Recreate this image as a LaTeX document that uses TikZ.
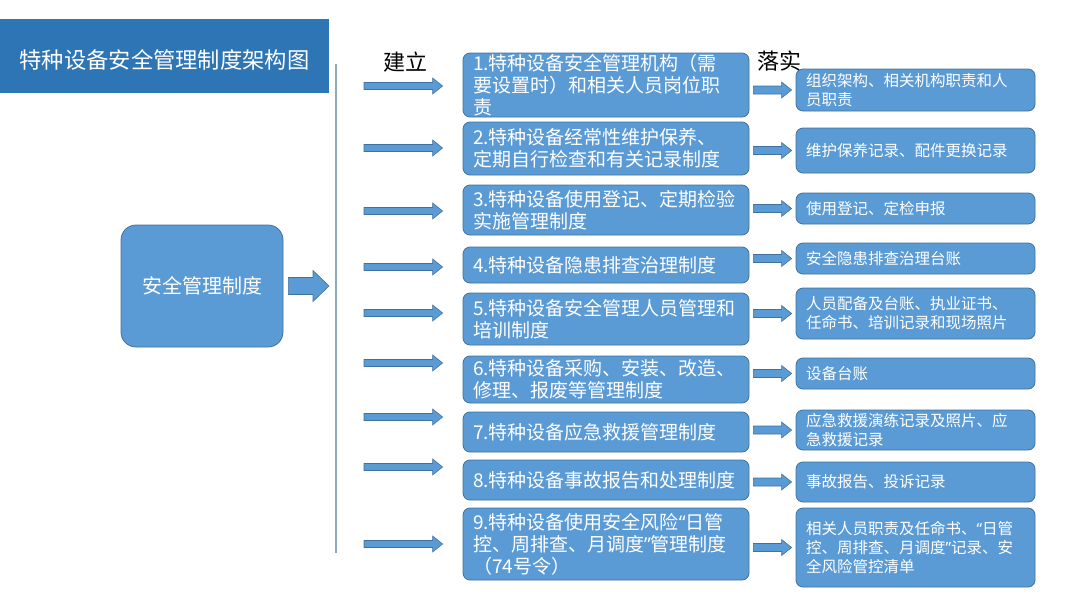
\documentclass[tikz,border=0pt]{standalone}
\usepackage{fontspec}
\setmainfont{Noto Sans CJK SC}
\newfontfamily\latinfont{Noto Sans}
\usepackage{xcolor}
\usepackage{tikz}
\usetikzlibrary{calc, positioning}

\definecolor{boxblue}{HTML}{5B9BD5}
\definecolor{boxline}{HTML}{41719C}
\definecolor{titleblue}{HTML}{2E75B6}
\definecolor{busgray}{HTML}{8FA8C2}

\newcommand{\oq}{{\latinfont “}}
\newcommand{\cq}{{\latinfont ”}}

\begin{document}
\begin{tikzpicture}[
    x=1pt, y=-1pt,
    title_bar/.style={fill=titleblue, text=white, inner sep=0pt, minimum width=329pt, minimum height=74pt, text height=25pt, text depth=0pt, font=\fontsize{22.3}{26}\selectfont},
    sys_box/.style={draw=boxline, fill=boxblue, thick, rounded corners=15pt, text=white, minimum width=162pt, minimum height=122pt, font=\fontsize{20}{24}\selectfont},
    step_lbl/.style={font=\fontsize{22}{26}\selectfont},
    mid_box/.style={draw=boxline, fill=boxblue, thick, rounded corners=7pt, text=white, align=left, text width=266pt, inner xsep=10pt, inner ysep=0pt, font=\fontsize{19}{22}\selectfont},
    res_box/.style={draw=boxline, fill=boxblue, thick, rounded corners=7pt, text=white, align=left, text width=219pt, inner xsep=10pt, inner ysep=0pt, font=\fontsize{15.5}{19}\selectfont},
    block_arrow/.style n args={5}{draw=boxline, fill=boxblue, semithick,
      to path={let \p1=(\tikztostart), \p2=(\tikztotarget) in
        (\x1+#4,\y1+#1) -- (\x2-#5-#3,\y1+#1) -- (\x2-#5-#3,\y1+#2) -- (\x2-#5,\y1)
        -- (\x2-#5-#3,\y1-#2) -- (\x2-#5-#3,\y1-#1) -- (\x1+#4,\y1-#1) -- cycle}}
  ]

  \useasboundingbox (0,0) rectangle (1080,608);

  % 1. 标题栏
  \node[title_bar] (title) at (164.5,56) {特种设备安全管理制度架构图};

  % 2. 左侧总框和竖线
  \node[sys_box] (safety) at (202,286) {安全管理制度};
  \coordinate (bus_top) at (336,64);
  \coordinate (bus_bot) at (336,553);
  \draw[busgray, line width=1.5pt] (bus_top) -- (bus_bot);
  \draw[block_arrow={8.5pt}{15.5pt}{16pt}{5pt}{7pt}] (safety.east) to (safety.east -| bus_top);

  % 3. 建立：九项制度
  \node[mid_box, minimum height=64pt] (m1) at (606,85) {1.特种设备安全管理机构（需\\要设置时）和相关人员岗位职\\责};
  \node[mid_box, minimum height=53pt] (m2) at (606,148.5) {2.特种设备经常性维护保养、\\定期自行检查和有关记录制度};
  \node[mid_box, minimum height=50pt] (m3) at (606,210) {3.特种设备使用登记、定期检验\\实施管理制度};
  \node[mid_box, minimum height=36pt] (m4) at (606,265) {4.特种设备隐患排查治理制度};
  \node[mid_box, minimum height=52pt] (m5) at (606,319) {5.特种设备安全管理人员管理和\\培训制度};
  \node[mid_box, minimum height=47pt] (m6) at (606,379.5) {6.特种设备采购、安装、改造、\\修理、报废等管理制度};
  \node[mid_box, minimum height=40pt] (m7) at (606,432) {7.特种设备应急救援管理制度};
  \node[mid_box, minimum height=40pt] (m8) at (606,480) {8.特种设备事故报告和处理制度};
  \node[mid_box, minimum height=72pt] (m9) at (606,544) {9.特种设备使用安全风险\oq 日管\\控、周排查、月调度\cq 管理制度\\（74号令）};

  % 4. 落实：对应记录
  \node[res_box, minimum height=42pt] (r1) at (915.5,90) {组织架构、相关机构职责和人\\员职责};
  \node[res_box, minimum height=45pt] (r2) at (915.5,150.5) {维护保养记录、配件更换记录};
  \node[res_box, minimum height=31pt] (r3) at (915.5,208.5) {使用登记、定检申报};
  \node[res_box, minimum height=31pt] (r4) at (915.5,258.5) {安全隐患排查治理台账};
  \node[res_box, minimum height=51pt] (r5) at (915.5,313.5) {人员配备及台账、执业证书、\\任命书、培训记录和现场照片};
  \node[res_box, minimum height=31pt] (r6) at (915.5,373.5) {设备台账};
  \node[res_box, minimum height=40pt] (r7) at (915.5,430) {应急救援演练记录及照片、应\\急救援记录};
  \node[res_box, minimum height=40pt] (r8) at (915.5,482) {事故报告、投诉记录};
  \node[res_box, minimum height=79pt] (r9) at (915.5,547.5) {相关人员职责及任命书、\oq 日管\\控、周排查、月调度\cq 记录、安\\全风险管控清单};

  % 5. 箭头
  \foreach \i/\y in {1/86, 2/148, 3/211, 4/267, 5/313, 6/363, 7/417, 8/467, 9/544} {
    \coordinate (a\i) at (364,\y);
    \draw[block_arrow={3.5pt}{8pt}{10pt}{0pt}{20pt}] (a\i) to (m\i.west);
    \draw[block_arrow={4pt}{8pt}{10pt}{4pt}{4pt}] (m\i.east |- r\i.west) to (r\i.west);
  }

  % 6. 列标题
  \node[step_lbl] (build) at (405,62) {建立};
  \node[step_lbl] (apply) at (779,61) {落实};

\end{tikzpicture}
\end{document}
